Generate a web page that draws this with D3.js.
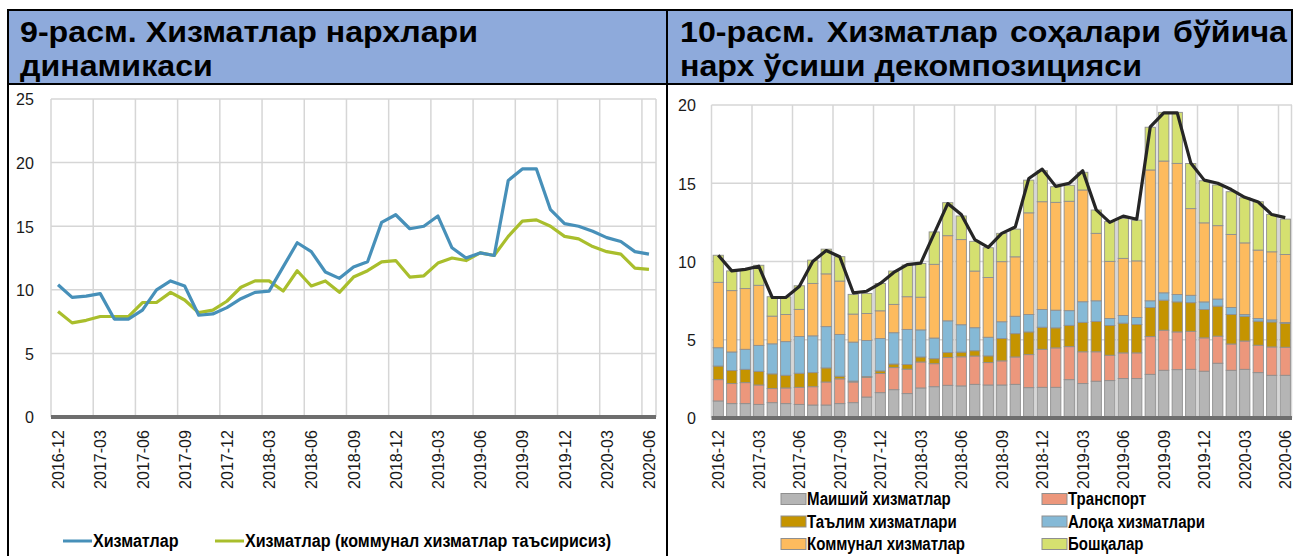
<!DOCTYPE html>
<html><head><meta charset="utf-8">
<script src="https://cdn.jsdelivr.net/npm/d3@7"></script>
<style>
html,body{margin:0;padding:0;background:#fff;}
svg{display:block;font-family:"Liberation Sans",Arial,sans-serif;}
</style></head><body>
<svg id="c" width="1293" height="556"></svg>
<script>
// ---------- DATA ----------
const months = ["2016-12","2017-01","2017-02","2017-03","2017-04","2017-05","2017-06","2017-07","2017-08","2017-09","2017-10","2017-11","2017-12",
"2018-01","2018-02","2018-03","2018-04","2018-05","2018-06","2018-07","2018-08","2018-09","2018-10","2018-11","2018-12",
"2019-01","2019-02","2019-03","2019-04","2019-05","2019-06","2019-07","2019-08","2019-09","2019-10","2019-11","2019-12",
"2020-01","2020-02","2020-03","2020-04","2020-05","2020-06"];
const tickMonths = ["2016-12","2017-03","2017-06","2017-09","2017-12","2018-03","2018-06","2018-09","2018-12","2019-03","2019-06","2019-09","2019-12","2020-03","2020-06"];
const yTicksLeft = [0,5,10,15,20,25];
const yTicksRight = [0,5,10,15,20];

// Left chart: services price growth, %
const services = [10.4,9.4,9.5,9.7,7.7,7.7,8.4,10.0,10.7,10.3,8.0,8.1,8.6,9.3,9.8,9.9,11.8,13.7,13.0,11.4,10.9,11.8,12.2,15.3,15.9,14.8,15.0,15.8,13.3,12.5,12.9,12.7,18.6,19.5,19.5,16.3,15.2,15.0,14.6,14.1,13.8,13.0,12.8];
const servicesExCommunal = [8.3,7.4,7.6,7.9,7.9,7.9,9.0,9.0,9.8,9.2,8.2,8.4,9.1,10.2,10.7,10.7,9.9,11.5,10.3,10.7,9.8,11.0,11.5,12.2,12.3,11.0,11.1,12.1,12.5,12.3,12.9,12.7,14.2,15.4,15.5,15.0,14.2,14.0,13.4,13.0,12.8,11.7,11.6];

// Right chart: decomposition (percentage points)
const household = [1.09,0.92,0.92,0.87,0.98,0.92,0.87,0.83,0.83,0.92,0.98,1.34,1.62,1.81,1.56,1.92,2.0,2.09,2.05,2.15,2.11,2.11,2.15,1.94,1.96,1.96,2.45,2.2,2.35,2.39,2.52,2.52,2.79,3.05,3.09,3.11,2.99,3.5,3.05,3.11,2.9,2.73,2.73];
const transport = [1.36,1.28,1.34,1.24,0.9,1.0,1.09,1.17,1.47,1.58,1.32,1.26,1.22,1.41,1.56,1.66,1.47,1.77,1.86,1.81,1.43,1.54,1.75,2.11,2.43,2.52,2.11,2.03,1.88,1.62,1.64,1.64,2.41,2.56,2.41,2.43,2.13,1.73,1.68,1.81,1.75,1.81,1.79];
const education = [0.87,0.83,0.85,0.87,0.94,0.81,0.9,0.9,0.9,0.17,0.06,0.05,0.17,0.23,0.3,0.32,0.32,0.32,0.3,0.34,0.43,1.43,1.49,1.45,1.41,1.28,1.36,1.88,1.94,1.9,1.9,1.81,1.86,1.92,1.92,1.83,1.81,1.92,1.88,1.58,1.54,1.6,1.54];
const communication = [1.17,1.19,1.28,1.66,1.92,2.15,2.35,2.35,2.64,2.67,2.49,2.3,2.07,2.0,2.24,1.73,1.32,2.03,1.75,1.47,1.19,1.07,1.11,1.11,1.13,1.13,0.94,1.32,1.32,0.45,0.49,0.45,0.43,0.47,0.47,0.47,0.49,0.45,0.45,0.11,0.17,0.13,0.04];
const communal = [4.18,3.92,3.88,3.84,1.77,1.73,1.73,3.35,3.37,3.41,1.79,1.73,1.77,1.81,2.09,2.09,4.71,5.44,5.44,3.62,3.82,3.84,3.8,6.5,6.89,6.89,6.99,7.14,4.31,3.65,3.65,3.62,8.36,8.42,8.38,5.54,5.05,4.69,4.67,4.58,4.37,4.35,4.35];
const other = [1.73,1.26,1.22,1.28,1.24,1.13,1.51,1.49,1.58,1.56,1.26,1.28,1.75,2.13,2.03,2.15,2.07,2.11,1.51,1.9,1.9,1.81,1.77,2.09,1.98,1.0,1.02,1.13,1.49,2.54,2.56,2.6,2.73,3.11,3.26,2.88,2.69,2.6,2.73,2.88,3.09,2.39,2.26];

const lineNames = ["Хизматлар","Хизматлар (коммунал хизматлар таъсирисиз)"];
const stackKeys = ["Маиший хизматлар","Транспорт","Таълим хизматлари","Алоқа хизматлари","Коммунал хизматлар","Бошқалар"];
const stackColors = ["#b5b5b5","#ec977c","#c59400","#85b9d6","#fdbb5e","#d5e070"];
const titleLeft = ["9-расм. Хизматлар нархлари","динамикаси"];
const titleRight = ["10-расм. Хизматлар соҳалари бўйича","нарх ўсиши декомпозицияси"];

// ---------- SETUP ----------
const svg = d3.select("#c");
const GRID = "#d6d6d6", AXIS = "#6e6e6e";
const textColor = "#1a1a1a";

function condense(sel, k){
  sel.each(function(){
    const w = this.getComputedTextLength();
    this.setAttribute("textLength", (w*k).toFixed(2));
    this.setAttribute("lengthAdjust","spacingAndGlyphs");
  });
}

// ---------- FRAME / TITLES ----------
svg.append("rect").attr("x",8).attr("y",10).attr("width",659).attr("height",74).attr("fill","#8eaadb");
svg.append("rect").attr("x",667).attr("y",10).attr("width",626).attr("height",74).attr("fill","#8eaadb");
const frame = svg.append("g").attr("stroke","#000").attr("stroke-width",2);
frame.append("line").attr("x1",7).attr("x2",1293).attr("y1",10).attr("y2",10);
frame.append("line").attr("x1",7).attr("x2",1293).attr("y1",84).attr("y2",84);
frame.append("line").attr("x1",8).attr("x2",8).attr("y1",9).attr("y2",556);
frame.append("line").attr("x1",667).attr("x2",667).attr("y1",9).attr("y2",556);
frame.append("line").attr("x1",1292).attr("x2",1292).attr("y1",9).attr("y2",84);

const TFS = 30;
const tl1 = svg.append("text").attr("x",20).attr("y",42).attr("font-size",TFS).attr("font-weight","bold").attr("fill","#000").text(titleLeft[0]);
const kTitle = 458 / tl1.node().getComputedTextLength();
condense(tl1, kTitle);
const tl2 = svg.append("text").attr("x",20).attr("y",76).attr("font-size",TFS).attr("font-weight","bold").attr("fill","#000").text(titleLeft[1]);
condense(tl2, kTitle);
// right title line 1 justified between 680 and 1287
{
  const words = titleRight[0].split(" ");
  const nodes = words.map(w => svg.append("text").attr("y",42).attr("font-size",TFS).attr("font-weight","bold").attr("fill","#000").text(w));
  const widths = nodes.map(n => n.node().getComputedTextLength()*kTitle);
  const total = d3.sum(widths);
  const gap = (1287-680-total)/(words.length-1);
  let x = 680;
  nodes.forEach((n,i)=>{ n.attr("x",x).attr("textLength",widths[i]).attr("lengthAdjust","spacingAndGlyphs"); x += widths[i]+gap; });
}
const tr2 = svg.append("text").attr("x",680).attr("y",76).attr("font-size",TFS).attr("font-weight","bold").attr("fill","#000").text(titleRight[1]);
condense(tr2, kTitle);

// ---------- LEFT CHART ----------
const xL = d3.scaleBand().domain(months).range([51,656]).padding(0);
const yL = d3.scaleLinear().domain([0,25]).range([417,99]);
const gL = svg.append("g");
gL.append("g").selectAll("line").data(yTicksLeft.filter(d=>d>0)).join("line")
  .attr("x1",51).attr("x2",656).attr("y1",d=>yL(d)).attr("y2",d=>yL(d)).attr("stroke",GRID).attr("stroke-width",1.5);
gL.append("g").selectAll("line").data(tickMonths).join("line")
  .attr("x1",d=>xL(d)).attr("x2",d=>xL(d)).attr("y1",yL(25)).attr("y2",yL(0)).attr("stroke",GRID).attr("stroke-width",1.5);
gL.append("line").attr("x1",656).attr("x2",656).attr("y1",yL(25)).attr("y2",yL(0)).attr("stroke",GRID).attr("stroke-width",1.5);
const yAxL = gL.append("g").attr("transform","translate(34,0)")
  .call(d3.axisLeft(yL).tickValues(yTicksLeft).tickSize(0).tickPadding(0).tickFormat(d3.format("d")));
yAxL.select(".domain").remove();
yAxL.selectAll("text").attr("font-size",17).attr("font-family","Liberation Sans, Arial, sans-serif").attr("fill",textColor).attr("dy","0.35em");
const xAxL = gL.append("g").attr("transform","translate(0,430)")
  .call(d3.axisBottom(xL).tickValues(tickMonths).tickSize(0).tickPadding(0));
xAxL.select(".domain").remove();
xAxL.selectAll("text").attr("font-size",17).attr("font-family","Liberation Sans, Arial, sans-serif").attr("fill",textColor)
  .attr("transform","rotate(-90)").attr("text-anchor","end").attr("x",0).attr("y",0).attr("dy","0.36em");
gL.append("line").attr("x1",51).attr("x2",656).attr("y1",yL(0)).attr("y2",yL(0)).attr("stroke",AXIS).attr("stroke-width",4);
const lineL = (arr)=> d3.line().x((d,i)=>xL(months[i])+xL.bandwidth()/2).y(d=>yL(d))(arr);
gL.append("path").attr("d",lineL(servicesExCommunal)).attr("fill","none").attr("stroke","#a9be2c").attr("stroke-width",3.2).attr("stroke-linejoin","round");
gL.append("path").attr("d",lineL(services)).attr("fill","none").attr("stroke","#4790b9").attr("stroke-width",3.2).attr("stroke-linejoin","round");
const legL = gL.append("g");
legL.append("line").attr("x1",63).attr("x2",92).attr("y1",541).attr("y2",541).attr("stroke","#4790b9").attr("stroke-width",3);
legL.append("line").attr("x1",215).attr("x2",244).attr("y1",541).attr("y2",541).attr("stroke","#a9be2c").attr("stroke-width",3);
const lt1 = legL.append("text").attr("x",93).attr("y",541).attr("dy","0.36em").attr("font-size",18).attr("font-weight","bold").attr("fill","#000").text(lineNames[0]);
const lt2 = legL.append("text").attr("x",245).attr("y",541).attr("dy","0.36em").attr("font-size",18).attr("font-weight","bold").attr("fill","#000").text(lineNames[1]);
const kLeg = 366 / lt2.node().getComputedTextLength();
condense(lt1,kLeg); condense(lt2,kLeg);

// ---------- RIGHT CHART ----------
const xR = d3.scaleBand().domain(months).range([711.5,1292]).paddingInner(0.24).paddingOuter(0.12);
const xRg = d3.scaleBand().domain(months).range([711.5,1292]).padding(0);
const yR = d3.scaleLinear().domain([0,20]).range([418,105]);
const gR = svg.append("g");
gR.append("g").selectAll("line").data(yTicksRight.filter(d=>d>0)).join("line")
  .attr("x1",711.5).attr("x2",1292).attr("y1",d=>yR(d)).attr("y2",d=>yR(d)).attr("stroke",GRID).attr("stroke-width",1.5);
gR.append("g").selectAll("line").data(tickMonths).join("line")
  .attr("x1",d=>xRg(d)).attr("x2",d=>xRg(d)).attr("y1",yR(20)).attr("y2",yR(0)).attr("stroke",GRID).attr("stroke-width",1.5);
gR.append("line").attr("x1",1291.5).attr("x2",1291.5).attr("y1",yR(20)).attr("y2",yR(0)).attr("stroke",GRID).attr("stroke-width",1.5);

const table = months.map((m,i)=>({m, [stackKeys[0]]:household[i], [stackKeys[1]]:transport[i], [stackKeys[2]]:education[i],
  [stackKeys[3]]:communication[i], [stackKeys[4]]:communal[i], [stackKeys[5]]:other[i]}));
const stacked = d3.stack().keys(stackKeys)(table);
gR.append("g").selectAll("g").data(stacked).join("g").attr("fill",(d,i)=>stackColors[i])
  .selectAll("rect").data(d=>d).join("rect")
  .attr("x",d=>xR(d.data.m)).attr("width",xR.bandwidth())
  .attr("y",d=>yR(d[1])).attr("height",d=>Math.max(0,yR(d[0])-yR(d[1])))
  .attr("stroke","#8f8f8f").attr("stroke-width",0.9);

const yAxR = gR.append("g").attr("transform","translate(696,0)")
  .call(d3.axisLeft(yR).tickValues(yTicksRight).tickSize(0).tickPadding(0).tickFormat(d3.format("d")));
yAxR.select(".domain").remove();
yAxR.selectAll("text").attr("font-size",17).attr("font-family","Liberation Sans, Arial, sans-serif").attr("fill",textColor).attr("dy","0.35em");
const xAxR = gR.append("g").attr("transform","translate(0,430)")
  .call(d3.axisBottom(xR).tickValues(tickMonths).tickSize(0).tickPadding(0));
xAxR.select(".domain").remove();
xAxR.selectAll("text").attr("font-size",17).attr("font-family","Liberation Sans, Arial, sans-serif").attr("fill",textColor)
  .attr("transform","rotate(-90)").attr("text-anchor","end").attr("x",0).attr("y",0).attr("dy","0.36em");

gR.append("line").attr("x1",711.5).attr("x2",1292).attr("y1",yR(0)).attr("y2",yR(0)).attr("stroke",AXIS).attr("stroke-width",4);
const lineR = d3.line().x((d,i)=>xR(months[i])+xR.bandwidth()/2).y(d=>yR(d));
gR.append("path").attr("d",lineR(services)).attr("fill","none").attr("stroke","#262626").attr("stroke-width",3.2).attr("stroke-linejoin","round");

const legPos = [[781,499],[1042,499],[781,521.5],[1042,521.5],[781,544],[1042,544]];
const legR = gR.append("g").selectAll("g").data(stackKeys).join("g").attr("transform",(d,i)=>`translate(${legPos[i][0]},${legPos[i][1]})`);
legR.append("rect").attr("x",0).attr("y",-5.5).attr("width",25).attr("height",11).attr("fill",(d,i)=>stackColors[i]).attr("stroke","#8f8f8f").attr("stroke-width",1);
const legRT = legR.append("text").attr("x",26).attr("y",0).attr("dy","0.36em").attr("font-size",18).attr("font-weight","bold").attr("fill","#000").text(d=>d);
const kLegR = 158 / legRT.filter((d,i)=>i===4).node().getComputedTextLength();
condense(legRT,kLegR);

const kTick = 59 / xAxL.select("text").node().getComputedTextLength();
condense(svg.selectAll(".tick text"), kTick);
</script>
</body></html>
